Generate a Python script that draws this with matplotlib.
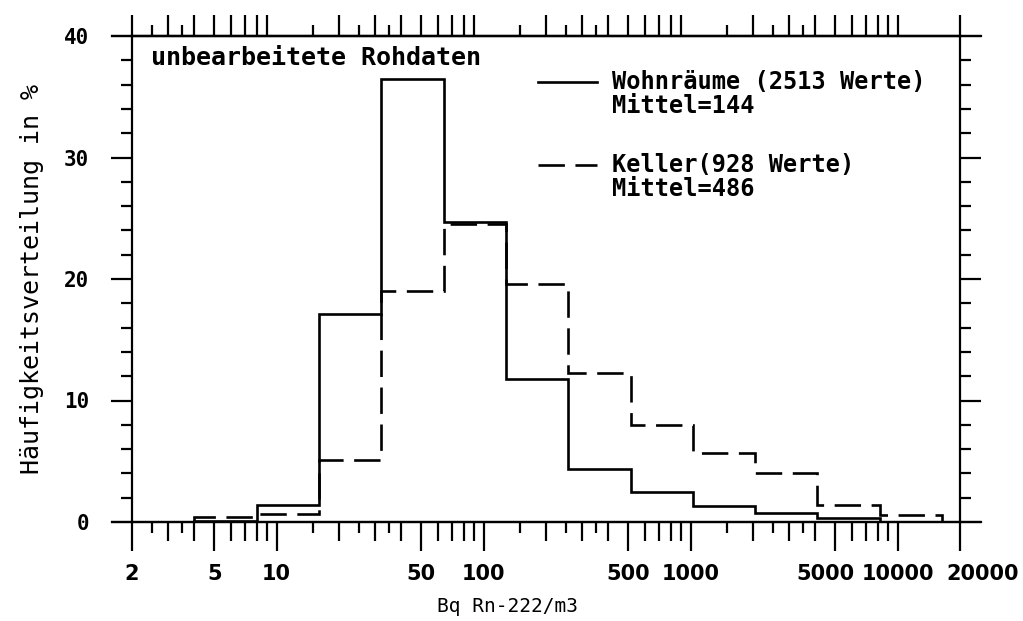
import numpy as np
import matplotlib
matplotlib.use("Agg")
import matplotlib.pyplot as plt
from matplotlib.ticker import FixedLocator, FixedFormatter, NullFormatter
from matplotlib.transforms import ScaledTranslation

# bin edges (Bq/m3), doubling from 4
edges_wohn = [4, 8, 16, 32, 64, 128, 256, 512, 1024, 2048, 4096, 8192]
edges_keller = [4, 8, 16, 32, 64, 128, 256, 512, 1024, 2048, 4096, 8192, 16384]

# Häufigkeit in %
wohn = [0.1, 1.4, 17.1, 36.5, 24.7, 11.8, 4.4, 2.5, 1.35, 0.7, 0.3]
keller = [0.45, 0.65, 5.1, 19.0, 24.5, 19.6, 12.3, 8.0, 5.7, 4.0, 1.4, 0.6]

xtick_vals = [2, 5, 10, 50, 100, 500, 1000, 5000, 10000, 20000]
xtick_labels = ["2", "5", "10", "50", "100", "500", "1000", "5000", "10000", "20000"]

FONT = "DejaVu Sans Mono"
plt.rcParams["font.family"] = FONT
plt.rcParams["font.weight"] = "bold"

fig = plt.figure(figsize=(10.23, 6.21), dpi=100)
ax = fig.add_axes([132 / 1023, 1 - 522 / 621, 828 / 1023, 486 / 621])

dash = (0, (10, 4))
ax.stairs(wohn, edges_wohn, color="black", lw=1.9, baseline=0)
ax.stairs(keller, edges_keller, color="black", lw=1.9, linestyle=dash, baseline=0)

ax.set_xscale("log")
ax.set_xlim(2, 20000)
ax.set_ylim(0, 40)

for s in ax.spines.values():
    s.set_linewidth(1.6)

# tick positions
integers = [m * 10**e for e in range(0, 4) for m in range(2, 10) if 2 <= m * 10**e <= 9000]
integers += [10000, 20000]
halves = [m * 10**e for e in range(0, 4) for m in (1.5, 2.5, 3.5) if 2 < m * 10**e < 20000]
minor_bottom = [v for v in integers if v not in xtick_vals]

ax.xaxis.set_major_locator(FixedLocator(xtick_vals))
ax.xaxis.set_major_formatter(FixedFormatter(xtick_labels))
ax.xaxis.set_minor_locator(FixedLocator(minor_bottom))
ax.xaxis.set_minor_formatter(NullFormatter())
ax.tick_params(axis="x", which="major", direction="out", length=21, width=1.6,
               labelsize=15, pad=9, top=False)
ax.tick_params(axis="x", which="minor", direction="out", length=14, width=1.6, top=False)

# crowded labels at the right end are nudged like in the original print
shift = {"5000": -10, "20000": 23}
for lab, txt in zip(ax.get_xticklabels(), xtick_labels):
    lab.set_fontfamily("DejaVu Sans")
    lab.set_fontweight("bold")
    if txt in shift:
        lab.set_transform(lab.get_transform()
                          + ScaledTranslation(shift[txt] / 100, 0, fig.dpi_scale_trans))

ax.set_yticks(np.arange(0, 41, 10))
ax.set_yticks(np.arange(0, 41, 2), minor=True)
ax.set_yticklabels(["0", "10", "20", "30", "40"])
ax.tick_params(axis="y", which="both", direction="out", width=1.6, left=True, right=True)
ax.tick_params(axis="y", which="major", length=15, labelsize=15, pad=16)
ax.tick_params(axis="y", which="minor", length=8)

# top axis ticks
top = ax.secondary_xaxis("top")
top.xaxis.set_major_locator(FixedLocator(integers))
top.xaxis.set_major_formatter(NullFormatter())
top.xaxis.set_minor_locator(FixedLocator(halves))
top.xaxis.set_minor_formatter(NullFormatter())
top.tick_params(which="major", direction="out", length=15, width=1.6)
top.tick_params(which="minor", direction="out", length=8, width=1.6)
top.spines["top"].set_linewidth(1.6)

# short half-step ticks at the bottom
bot = ax.secondary_xaxis("bottom")
bot.xaxis.set_major_locator(FixedLocator(halves))
bot.xaxis.set_major_formatter(NullFormatter())
bot.xaxis.set_minor_locator(FixedLocator([]))
bot.tick_params(which="major", direction="out", length=8, width=1.6)
for s in bot.spines.values():
    s.set_visible(False)

# frame lines reaching past the corners
ax.plot([-0.024, 1.025], [0, 0], transform=ax.transAxes, color="black", lw=1.6, clip_on=False)
ax.plot([-0.024, 1.025], [1, 1], transform=ax.transAxes, color="black", lw=1.6, clip_on=False)

ax.set_ylabel("Häufigkeitsverteilung in %", fontsize=18, labelpad=14)
ax.set_xlabel("Bq Rn-222/m3", fontsize=14)
ax.xaxis.set_label_coords(0.453, -0.155)

ax.text(0.023, 0.955, "unbearbeitete Rohdaten", transform=ax.transAxes,
        fontsize=18, va="center", ha="left")

# legend
ax.plot([0.49, 0.562], [0.905, 0.905], transform=ax.transAxes, color="black", lw=1.9)
ax.plot([0.49, 0.562], [0.735, 0.735], transform=ax.transAxes, color="black", lw=1.9,
        linestyle=dash)
ax.text(0.58, 0.905, "Wohnräume (2513 Werte)", transform=ax.transAxes, fontsize=17,
        va="center", ha="left")
ax.text(0.58, 0.855, "Mittel=144", transform=ax.transAxes, fontsize=17,
        va="center", ha="left")
ax.text(0.58, 0.735, "Keller(928 Werte)", transform=ax.transAxes, fontsize=17,
        va="center", ha="left")
ax.text(0.58, 0.685, "Mittel=486", transform=ax.transAxes, fontsize=17,
        va="center", ha="left")

fig.savefig("out.png", dpi=100)
